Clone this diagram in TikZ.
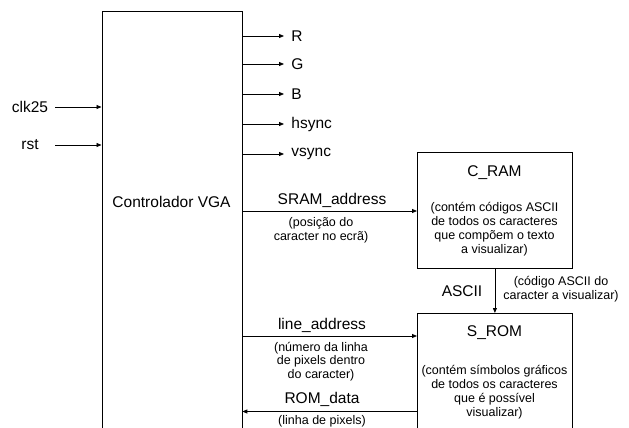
\documentclass[tikz,border=0pt]{standalone}
\usepackage{fontspec}
\setmainfont{Liberation Sans}
\usetikzlibrary{arrows.meta}
\newcommand\mybigfont{\fontsize{15.5}{18}\selectfont}
\newcommand\mysmallfont{\fontsize{12.5}{13.8}\selectfont}
\begin{document}
\begin{tikzpicture}[x=1pt,y=-1pt,
  line width=0.8pt,
  blockbox/.style={draw, line width=0.8pt, inner sep=0pt, anchor=north west},
  big/.style={font=\mybigfont, inner sep=0pt},
  small/.style={font=\mysmallfont, inner sep=0pt, align=center},
  sig/.style={-{Triangle[length=5pt,width=4pt]}, line width=0.8pt}]
\useasboundingbox (0,0) rectangle (629,428);
\clip (0,0) rectangle (629,428);
% blocks
\node[blockbox, minimum width=140pt, minimum height=440pt] (vga) at (101.5,11) {};
\node[big] (vgat) at (171.5,202) {Controlador VGA};
\node[blockbox, minimum width=155pt, minimum height=116pt] (cram) at (417,152) {};
\node[big] (cramt) at (494.5,173) {C\_RAM};
\node[small] (cramd) at (494.5,229) {(contém códigos ASCII\\de todos os caracteres\\que compõem o texto\\a visualizar)};
\node[blockbox, minimum width=155pt, minimum height=130pt] (srom) at (417,313) {};
\node[big] (sromt) at (494.5,333) {S\_ROM};
\node[small] (sromd) at (494.5,392) {(contém símbolos gráficos\\de todos os caracteres\\que é possível\\visualizar)};
% inputs
\node[big] (clkl) at (30,107) {clk25};
\coordinate (clks) at (55,107);
\draw[sig] (clks) -- (vga.west |- clks);
\node[big] (rstl) at (30,145) {rst};
\coordinate (rsts) at (55,145);
\draw[sig] (rsts) -- (vga.west |- rsts);
% outputs
\foreach \nm/\yy/\tx in {r/36/R, g/64/G, b/94/B, h/124/hsync, v/154/vsync}{
  \coordinate (\nm e) at (284,\yy);
  \draw[sig] (vga.east |- \nm e) -- (\nm e);
  \node[big, anchor=west] (\nm l) at (291,\yy) {\tx};
}
% SRAM address
\coordinate (sramy) at (300,211);
\draw[sig] (vga.east |- sramy) -- (cram.west |- sramy);
\node[big] (sraml) at (332,200) {SRAM\_address};
\node[small] (sramd) at (321,230.5) {(posição do\\caracter no ecrã)};
% ASCII
\draw[sig] (cram.south) -- (srom.north);
\node[big] (asciil) at (462,291) {ASCII};
\node[small] (asciid) at (561,289) {(código ASCII do\\caracter a visualizar)};
% line address
\coordinate (liney) at (300,336);
\draw[sig] (vga.east |- liney) -- (srom.west |- liney);
\node[big] (linel) at (322,325) {line\_address};
\node[small] (lined) at (321,361.5) {(número da linha\\de pixels dentro\\do caracter)};
% ROM data
\coordinate (romy) at (300,411.5);
\draw[sig] (srom.west |- romy) -- (vga.east |- romy);
\node[big] (roml) at (322,399) {ROM\_data};
\node[small] (romd) at (322,421.5) {(linha de pixels)};
\end{tikzpicture}
\end{document}
